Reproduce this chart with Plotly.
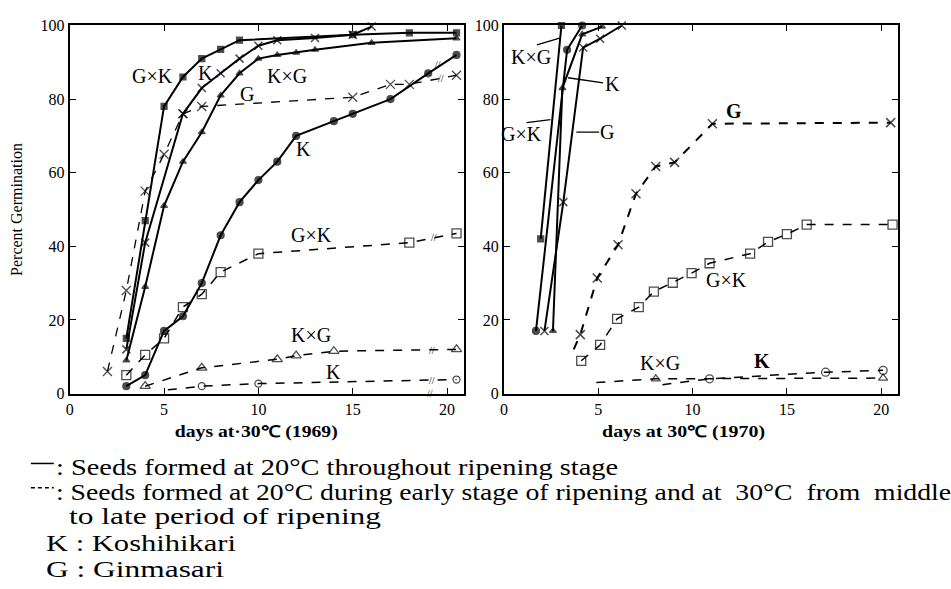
import json
import plotly.graph_objects as go

W, H = 951, 589

# ---------------- data: 1969 (left panel) ----------------
gk_solid_69_x = [3, 4, 5, 6, 7, 8, 9, 15, 18, 20.5]
gk_solid_69_y = [15, 47, 78, 86, 91, 93.5, 96, 97.5, 98, 98]
g_solid_69_x = [3, 4, 6, 7, 8, 9, 10, 11, 13, 15, 16]
g_solid_69_y = [12, 41, 76, 83, 87, 91, 94.5, 96, 96.6, 97.5, 99.7]
kg_solid_69_x = [3, 4, 5, 6, 7, 8, 9, 10, 11, 12, 13, 16, 20.5]
kg_solid_69_y = [9, 29, 51, 63, 71, 81, 87, 91, 92, 92.6, 93.4, 95.3, 96.5]
k_solid_69_x = [3, 4, 5, 6, 7, 8, 9, 10, 11, 12, 14, 15, 17, 19, 20.5]
k_solid_69_y = [2, 5, 17, 21, 30, 43, 52, 58, 63, 70, 74, 76, 80, 87, 92]
g_dash_69_x = [2, 3, 4, 5, 6, 7, 15, 17, 18, 20.5]
g_dash_69_y = [6, 28, 55, 65, 76, 78, 80.5, 84, 84, 86.5]
gk_dash_69_x = [3, 4, 5, 6, 7, 8, 10, 18, 20.5]
gk_dash_69_y = [5, 10.5, 15, 23.5, 27, 33, 38, 41, 43.5]
kg_dash_69_x = [4, 7, 11, 12, 14, 20.5]
kg_dash_69_y = [2, 7, 9.3, 10.3, 11.5, 12]
k_dash_69_x = [5.2, 7, 10, 20.5]
k_dash_69_y = [1, 2, 2.7, 3.8]

# ---------------- data: 1970 (right panel) ----------------
kg_solid_70_x = [1.95, 3.05]
kg_solid_70_y = [42, 100]
k_solid_70_x = [1.7, 3.35, 4.15]
k_solid_70_y = [17, 93.4, 100]
gk_solid_70_x = [2.6, 3.1, 4.15, 5.2]
gk_solid_70_y = [17, 83, 97.6, 99.7]
g_solid_70_x = [2.15, 3.15, 4.2, 5.1, 6.25]
g_solid_70_y = [17, 52, 94, 96.4, 100]
g_dash_70_x = [3.7, 4.05, 4.95, 6.05, 7, 8.05, 9.05, 11.05, 20.5]
g_dash_70_y = [12, 16, 31.4, 40.4, 54.3, 61.7, 62.8, 73.3, 73.6]
gk_dash_70_x = [4.1, 5.1, 6, 7.15, 7.95, 8.95, 9.95, 10.9, 13.05, 14, 15, 16.05, 20.6]
gk_dash_70_y = [8.9, 13.2, 20.3, 23.5, 27.7, 30.1, 32.7, 35.4, 38, 41.2, 43.3, 45.9, 45.9]
kg_dash_70_x = [4.9, 8.05, 20.1]
kg_dash_70_y = [3, 4, 4.2]
k_dash_70_x = [8.4, 10.9, 17.05, 20.1]
k_dash_70_y = [2.4, 4, 5.8, 6.3]

# axis-break marks on the 1969 panel
break_x_69 = [19.5, 19.7, 19.3, 19.2, 19.2, 19.1]
break_y_69 = [89.5, 85.6, 42.3, 11.8, 3.6, 0]

x_ticks = [0, 5, 10, 15, 20]
y_ticks = [0, 20, 40, 60, 80, 100]

SERIF = "Liberation Serif"
fig = go.Figure()


def add(x, y, ax, dash, width, symbol, size, first_hidden=False, lw=1.2):
    sizes = [size] * len(x)
    if first_hidden:
        sizes[0] = 0
    fig.add_trace(go.Scatter(
        x=x, y=y, xaxis="x" if ax == 1 else "x2", yaxis="y" if ax == 1 else "y2",
        mode="lines+markers", showlegend=False, cliponaxis=False,
        line=dict(color="black", width=width, dash=dash),
        marker=dict(symbol=symbol, size=sizes, color="black",
                    line=dict(color="black", width=lw)),
    ))


# 1969
add(gk_solid_69_x, gk_solid_69_y, 1, "solid", 2, "square", 6)
add(g_solid_69_x, g_solid_69_y, 1, "solid", 2, "x-thin", 8, lw=1.5)
add(kg_solid_69_x, kg_solid_69_y, 1, "solid", 2, "triangle-up", 6)
add(k_solid_69_x, k_solid_69_y, 1, "solid", 2, "circle", 7)
add(g_dash_69_x, g_dash_69_y, 1, "dash", 1.3, "x-thin", 9, lw=1.3)
add(gk_dash_69_x, gk_dash_69_y, 1, "dash", 1.5, "square-open", 9, lw=1.3)
add(kg_dash_69_x, kg_dash_69_y, 1, "dash", 1.5, "triangle-up-open", 9, lw=1.3)
add(k_dash_69_x, k_dash_69_y, 1, "dash", 1.5, "circle-open", 7, first_hidden=True, lw=1.3)
# 1970
add(kg_solid_70_x, kg_solid_70_y, 2, "solid", 2, "square", 6)
add(k_solid_70_x, k_solid_70_y, 2, "solid", 2, "circle", 7)
add(gk_solid_70_x, gk_solid_70_y, 2, "solid", 2, "triangle-up", 6)
add(g_solid_70_x, g_solid_70_y, 2, "solid", 2, "x-thin", 8, lw=1.5)
add(g_dash_70_x, g_dash_70_y, 2, "dash", 2, "x-thin", 9, first_hidden=True, lw=1.5)
add(gk_dash_70_x, gk_dash_70_y, 2, "dash", 1.5, "square-open", 9, lw=1.3)
add(kg_dash_70_x, kg_dash_70_y, 2, "dash", 1.5, "triangle-up-open", 8, first_hidden=True, lw=1.3)
add(k_dash_70_x, k_dash_70_y, 2, "dash", 1.5, "circle-open", 8, first_hidden=True, lw=1.3)

annotations = []
lab_font = dict(family=SERIF, size=20, color="black")


def lab(text, x, y, ax, bold=False):
    t = "<b>" + text + "</b>" if bold else text
    annotations.append(dict(text=t, x=x, y=y, xref="x" if ax == 1 else "x2",
                            yref="y" if ax == 1 else "y2", showarrow=False,
                            font=lab_font))


# labels, 1969
lab("G×K", 4.4, 86.2, 1)
lab("K", 7.2, 87.2, 1)
lab("K×G", 11.5, 86.4, 1)
lab("G", 9.4, 81.5, 1)
lab("K", 12.4, 66.5, 1)
lab("G×K", 12.8, 43.2, 1)
lab("K×G", 12.8, 16, 1)
lab("K", 14, 5.8, 1)
# labels, 1970
lab("K×G", 1.45, 91.5, 2)
lab("K", 5.75, 84, 2)
lab("G×K", 0.95, 70.5, 2)
lab("G", 5.45, 71, 2)
lab("G", 12.2, 76.8, 2, bold=True)
lab("G×K", 11.8, 30.8, 2)
lab("K×G", 8.3, 8.4, 2)
lab("K", 13.7, 8.9, 2, bold=True)

for bx, by in zip(break_x_69, break_y_69):
    annotations.append(dict(text="//", x=bx, y=by, xref="x", yref="y",
                            showarrow=False, font=dict(family=SERIF, size=10, color="black")))

# axis titles
annotations.append(dict(text="<b>days at·30℃ (1969)</b>", x=253 / W, y=1 - 437 / H,
                        xref="paper", yref="paper", xanchor="center", yanchor="middle",
                        showarrow=False, font=dict(family=SERIF, size=16, color="black")))
annotations.append(dict(text="<b>days at 30℃ (1970)</b>", x=682 / W, y=1 - 437 / H,
                        xref="paper", yref="paper", xanchor="center", yanchor="middle",
                        showarrow=False, font=dict(family=SERIF, size=16, color="black")))

# legend text
leg_font = dict(family=SERIF, size=24, color="black")
leg_lines = [
    (50, 473, ": Seeds formed at 20°C throughout ripening stage"),
    (50, 498, ": Seeds formed at 20°C during early stage of ripening and at \u00a030°C \u00a0from \u00a0middle"),
    (63, 523, "to late period of ripening"),
    (40, 551, "K : Koshihikari"),
    (40, 578, "G : Ginmasari"),
]
for lx, ly, t in leg_lines:
    annotations.append(dict(text=t, x=lx / W, y=1 - ly / H, xref="paper", yref="paper",
                            xanchor="left", yanchor="middle", showarrow=False, font=leg_font))

shapes = [
    dict(type="line", xref="paper", yref="paper", x0=27 / W, x1=50 / W,
         y0=1 - 469 / H, y1=1 - 469 / H, line=dict(color="black", width=1.5)),
    dict(type="line", xref="paper", yref="paper", x0=27 / W, x1=50 / W,
         y0=1 - 494 / H, y1=1 - 494 / H, line=dict(color="black", width=1.5, dash="4px,3px")),
]
# leader lines, 1970 panel
leaders = [((1.75, 94.7), (3.0, 96.6)), ((3.4, 85.8), (5.26, 84.4)),
           ((1.2, 73.6), (2.47, 74.4)), ((3.84, 71), (5.05, 71))]
for (a, b) in leaders:
    shapes.append(dict(type="line", xref="x2", yref="y2", x0=a[0], y0=a[1], x1=b[0], y1=b[1],
                       line=dict(color="black", width=1.3)))

ydom = [1 - 397 / H, 1 - 18 / H]
axis_common = dict(showline=True, linecolor="black", linewidth=1.8, mirror="ticks",
                   ticks="inside", ticklen=6, tickwidth=1.3, tickcolor="black",
                   showgrid=False, zeroline=False,
                   tickfont=dict(family=SERIF, size=16, color="black"))

fig.update_layout(
    width=W, height=H, margin=dict(l=0, r=0, t=0, b=0),
    paper_bgcolor="white", plot_bgcolor="white",
    xaxis=dict(domain=[66 / W, 462 / W], range=[0, 20.9], tickvals=x_ticks, anchor="y", **axis_common),
    yaxis=dict(domain=ydom, range=[0, 100], tickvals=y_ticks, anchor="x",
               title=dict(text="Percent Germination", font=dict(family=SERIF, size=16, color="black"),
                          standoff=14),
               **axis_common),
    xaxis2=dict(domain=[502 / W, 898 / W], range=[0, 20.9], tickvals=x_ticks, anchor="y2", **axis_common),
    yaxis2=dict(domain=ydom, range=[0, 100], tickvals=y_ticks, anchor="x2", **axis_common),
    annotations=annotations, shapes=shapes,
)

# the scanned typeface is set wider than Liberation Serif: stretch these texts horizontally
stretch_targets = [
    [": Seeds formed at 20°C throughout", 562, "left"],
    [": Seeds formed at 20°C during", 895, "left"],
    ["to late period", 312, "left"],
    ["K : Kosh", 190, "left"],
    ["G : Ginm", 178, "left"],
    ["days at·30", 163, "center"],
    ["days at 30", 163, "center"],
]
post = """
var gd = document.getElementById('{plot_id}');
var targets = %s;
gd.querySelectorAll('text.annotation-text').forEach(function(t){
  var s = t.textContent;
  for (var i = 0; i < targets.length; i++) {
    var tg = targets[i];
    if (s.indexOf(tg[0]) === 0) {
      var w0 = t.getComputedTextLength();
      var L = tg[1];
      var x = parseFloat(t.getAttribute('x')) || 0;
      t.setAttribute('textLength', L);
      t.setAttribute('lengthAdjust', 'spacingAndGlyphs');
      if (tg[2] === 'left') {
        var anc = t.getAttribute('text-anchor') || 'start';
        if (anc === 'middle') { t.setAttribute('x', x - w0 / 2 + L / 2); }
        else if (anc === 'end') { t.setAttribute('x', x - w0 + L); }
      }
      break;
    }
  }
});
""" % json.dumps(stretch_targets, ensure_ascii=False)

fig.write_html("out.html", post_script=post)
